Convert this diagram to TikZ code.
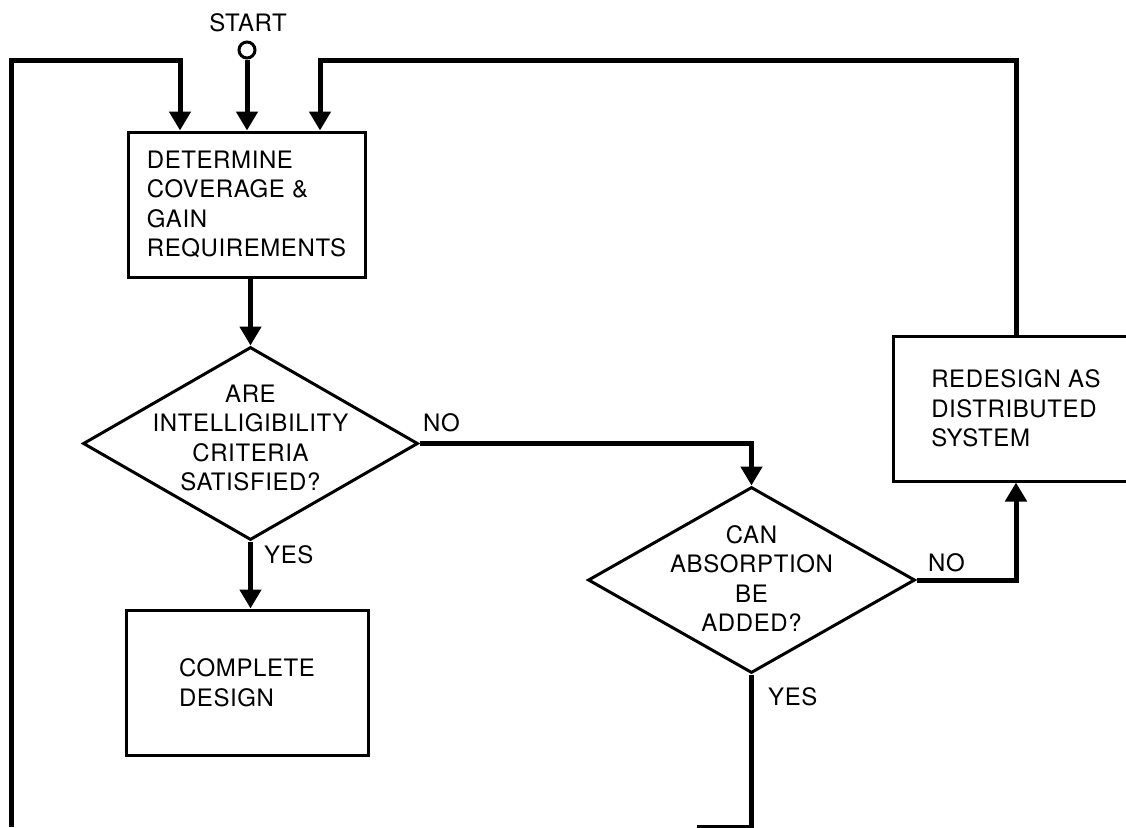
\documentclass[tikz,border=0pt]{standalone}
\usepackage{fontspec}
\setmainfont[LetterSpace=2.5]{TeX Gyre Heros}
\usetikzlibrary{shapes.geometric,arrows.meta}

\begin{document}
\begin{tikzpicture}[x=1pt,y=-1pt,
  every node/.style={font=\fontsize{24}{29.5}\selectfont},
  procbox/.style={draw,line width=3pt,align=left,inner sep=0pt,minimum height=145pt},
  decision/.style={draw,diamond,line width=3pt,inner sep=0pt},
  flow/.style={line width=5pt,-{Triangle[width=21pt,length=19pt]}},
  flowline/.style={line width=5pt},
  ans/.style={inner sep=0pt,anchor=west}]
  \useasboundingbox (0,0) rectangle (1126,827);
  \clip (0,0) rectangle (1126,827);

  \node (start) at (248,23) {START};
  \node[draw,circle,line width=3pt,minimum size=16pt,inner sep=0pt] (startpt) at (247,50) {};
  \node[procbox,minimum width=237pt] (determine) at (246.5,204.5) {DETERMINE\\COVERAGE \&\\GAIN\\REQUIREMENTS};
  \node[decision,minimum width=335pt,minimum height=193pt] (q1) at (250.5,443.5) {};
  \node[align=center,inner sep=0pt] (q1txt) at (250.5,438) {ARE\\INTELLIGIBILITY\\CRITERIA\\SATISFIED?};
  \node[procbox,minimum width=242pt] (complete) at (247,682.5) {COMPLETE\\DESIGN};
  \node[decision,minimum width=327pt,minimum height=186pt] (q2) at (751.5,580) {};
  \node[align=center,inner sep=0pt] (q2txt) at (751.5,578.5) {CAN\\ABSORPTION\\BE\\ADDED?};
  \node[procbox,minimum width=246pt] (redesign) at (1016,408.5) {REDESIGN AS\\DISTRIBUTED\\SYSTEM};

  \node[ans] (no1) at (423,423) {NO};
  \node[ans] (yes1) at (264,555) {YES};
  \node[ans] (no2) at (928,563) {NO};
  \node[ans] (yes2) at (768,697) {YES};

  \coordinate (loopL) at (11,60);
  \coordinate (loopR) at (1016,60);
  \coordinate (botL) at (11,827);
  \coordinate (botR) at (697,827);

  \draw[flow] (startpt.south) -- (startpt.south |- determine.north);
  \draw[flow] (botL) -- (loopL) -| ([xshift=-66.5pt]determine.north);
  \draw[flow] (redesign.north) -- (loopR) -| ([xshift=73.5pt]determine.north);
  \draw[flow] (q1.north |- determine.south) -- (q1.north);
  \draw[flow] (q1.east) -| (q2.north);
  \draw[flow] (q1.south) -- (q1.south |- complete.north);
  \draw[flow] (q2.east) -| (redesign.south);
  \draw[flowline] (q2.south) |- (botR);
\end{tikzpicture}
\end{document}
